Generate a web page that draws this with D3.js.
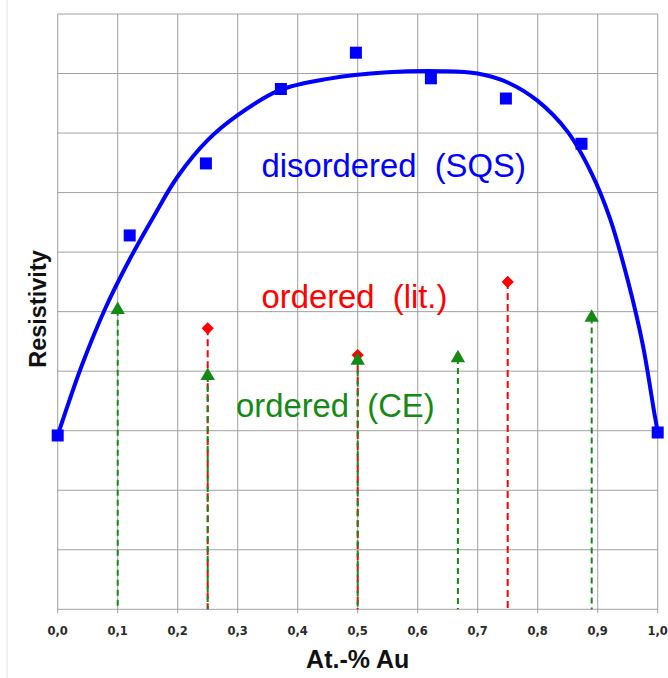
<!DOCTYPE html>
<html>
<head>
<meta charset="utf-8">
<script src="https://cdn.jsdelivr.net/npm/d3@7"></script>
<style>
  body { margin: 0; background: #fff; }
  text { white-space: pre; }
</style>
</head>
<body>
<div id="chart"></div>
<script>
// x ticks (composition) and their labels
const xTicks = [0, 0.1, 0.2, 0.3, 0.4, 0.5, 0.6, 0.7, 0.8, 0.9, 1.0];
const xTickLabels = ["0,0", "0,1", "0,2", "0,3", "0,4", "0,5", "0,6", "0,7", "0,8", "0,9", "1,0"];
const yGrid = [0, 1, 2, 3, 4, 5, 6, 7, 8, 9, 10];

// disordered (SQS) points
const sqsX = [0, 0.12, 0.247, 0.372, 0.497, 0.622, 0.747, 0.873, 1.0];
const sqsY = [2.92, 6.28, 7.49, 8.74, 9.35, 8.92, 8.58, 7.82, 2.97];

// fitted curve
const fitX = [0, 0.04, 0.08, 0.12, 0.16, 0.20, 0.25, 0.30, 0.37, 0.45, 0.55, 0.64, 0.70, 0.75, 0.80, 0.85, 0.89, 0.92, 0.95, 0.975, 0.995, 1.0];
const fitY = [2.92, 4.09, 5.07, 5.88, 6.60, 7.27, 7.88, 8.30, 8.72, 8.91, 9.02, 9.04, 9.0, 8.85, 8.54, 8.02, 7.32, 6.58, 5.53, 4.45, 3.26, 2.99];

// ordered (literature)
const litX = [0.25, 0.5, 0.75];
const litY = [4.72, 4.27, 5.50];

// ordered (cluster expansion)
const ceX = [0.1, 0.25, 0.5, 0.667, 0.89];
const ceY = [5.03, 3.92, 4.18, 4.22, 4.90];

const W = 668, H = 678;
const plot = { left: 57.7, right: 657.7, top: 14, bottom: 609.3 };
const blue = "#0000ff", red = "#ff0000", green = "#148a14";

const svg = d3.select("#chart").append("svg")
    .attr("width", W)
    .attr("height", H);

// faint page edge on the left
svg.append("line")
    .attr("x1", 7).attr("x2", 7).attr("y1", 0).attr("y2", H)
    .attr("stroke", "#e4e4e4").attr("stroke-width", 1);

const x = d3.scaleLinear().domain([0, 1]).range([plot.left, plot.right]);
const y = d3.scaleLinear().domain([0, 10]).range([plot.bottom, plot.top]);

// grid
svg.append("g")
    .selectAll("line")
    .data(xTicks)
    .enter()
    .append("line")
    .attr("x1", d => x(d)).attr("x2", d => x(d))
    .attr("y1", plot.top).attr("y2", plot.bottom + 4)
    .attr("stroke", "#a0a0a0").attr("stroke-width", 1);

svg.append("g")
    .selectAll("line")
    .data(yGrid)
    .enter()
    .append("line")
    .attr("x1", plot.left).attr("x2", plot.right)
    .attr("y1", d => y(d)).attr("y2", d => y(d))
    .attr("stroke", "#a0a0a0").attr("stroke-width", 1);

// tick labels
svg.append("g")
    .selectAll("text")
    .data(xTicks)
    .enter()
    .append("text")
    .attr("x", d => x(d))
    .attr("y", 635)
    .attr("text-anchor", "middle")
    .style("font-family", "DejaVu Sans")
    .style("font-weight", "bold")
    .style("font-size", "11.5px")
    .attr("fill", "#2a2a2a")
    .text((d, i) => xTickLabels[i]);

// axis titles
svg.append("text")
    .attr("x", (plot.left + plot.right) / 2)
    .attr("y", 668)
    .attr("text-anchor", "middle")
    .style("font-family", "Liberation Sans, Arial, sans-serif")
    .style("font-weight", "bold")
    .style("font-size", "25px")
    .attr("fill", "#111")
    .text("At.-% Au");

svg.append("text")
    .attr("transform", "translate(46, 309) rotate(-90)")
    .attr("text-anchor", "middle")
    .style("font-family", "Liberation Sans, Arial, sans-serif")
    .style("font-weight", "bold")
    .style("font-size", "23.5px")
    .attr("fill", "#111")
    .text("Resistivity");

// dashed drop lines: literature (red) and CE (green)
const lit = litX.map((d, i) => ({ x: d, y: litY[i] }));
const ce = ceX.map((d, i) => ({ x: d, y: ceY[i] }));

svg.append("g")
    .selectAll("line")
    .data(lit)
    .enter()
    .append("line")
    .attr("x1", d => x(d.x)).attr("x2", d => x(d.x))
    .attr("y1", d => y(d.y)).attr("y2", plot.bottom)
    .attr("stroke", red).attr("stroke-width", 2)
    .attr("stroke-dasharray", "7,4");

svg.append("g")
    .selectAll("line")
    .data(ce)
    .enter()
    .append("line")
    .attr("x1", d => x(d.x)).attr("x2", d => x(d.x))
    .attr("y1", d => y(d.y)).attr("y2", plot.bottom)
    .attr("stroke", green).attr("stroke-width", 2)
    .attr("stroke-dasharray", "6,4");

// markers for ordered phases
svg.append("g")
    .selectAll("path")
    .data(lit)
    .enter()
    .append("path")
    .attr("transform", d => `translate(${x(d.x)},${y(d.y)})`)
    .attr("d", d3.symbol().type(d3.symbolDiamond2).size(95))
    .attr("fill", red);

svg.append("g")
    .selectAll("path")
    .data(ce)
    .enter()
    .append("path")
    .attr("transform", d => `translate(${x(d.x)},${y(d.y)})`)
    .attr("d", d3.symbol().type(d3.symbolTriangle).size(90))
    .attr("fill", green);

// fitted curve
const fit = fitX.map((d, i) => ({ x: d, y: fitY[i] }));
svg.append("path")
    .datum(fit)
    .attr("fill", "none")
    .attr("stroke", blue)
    .attr("stroke-width", 4)
    .attr("stroke-linejoin", "round")
    .attr("d", d3.line()
        .x(d => x(d.x))
        .y(d => y(d.y))
        .curve(d3.curveCatmullRom.alpha(0.5)));

// SQS squares
svg.append("g")
    .selectAll("rect")
    .data(sqsX.map((d, i) => ({ x: d, y: sqsY[i] })))
    .enter()
    .append("rect")
    .attr("x", d => x(d.x) - 6)
    .attr("y", d => y(d.y) - 6)
    .attr("width", 12)
    .attr("height", 12)
    .attr("fill", blue);

// in-plot labels
const labels = [
    { text: "disordered  (SQS)", x: 261.5, y: 177, color: blue },
    { text: "ordered  (lit.)", x: 261.5, y: 308, color: red },
    { text: "ordered  (CE)", x: 236, y: 417, color: green }
];
svg.append("g")
    .selectAll("text")
    .data(labels)
    .enter()
    .append("text")
    .attr("x", d => d.x)
    .attr("y", d => d.y)
    .style("font-family", "Liberation Sans, Arial, sans-serif")
    .style("font-size", "32.8px")
    .attr("fill", d => d.color)
    .text(d => d.text);
</script>
</body>
</html>
